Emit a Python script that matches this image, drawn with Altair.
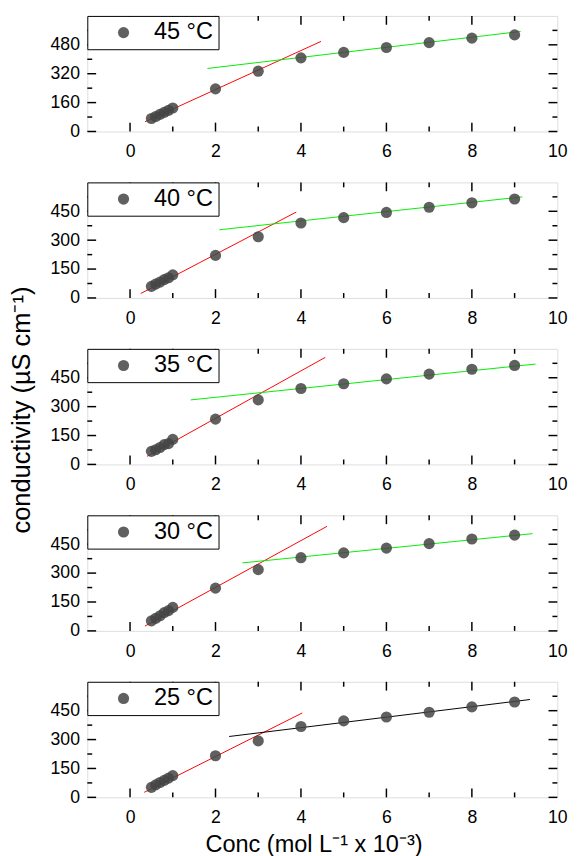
import altair as alt
import pandas as pd

conc = [0.5, 0.6, 0.7, 0.8, 0.9, 1.0, 2, 3, 4, 5, 6, 7, 8, 9]
temps = ["45 °C", "40 °C", "35 °C", "30 °C", "25 °C"]
cond_45 = [72, 83, 95, 106, 117, 130, 236, 334, 408, 438, 465, 492, 517, 535]
cond_40 = [60, 72, 82, 95, 105, 120, 221, 318, 389, 417, 444, 471, 494, 514]
cond_35 = [68, 76, 88, 103, 108, 130, 235, 335, 394, 419, 444, 469, 494, 514]
cond_30 = [52, 65, 78, 95, 105, 122, 222, 318, 380, 405, 430, 453, 477, 497]
cond_25 = [52, 65, 77, 88, 100, 113, 216, 293, 368, 397, 417, 442, 470, 495]

# fit line endpoints: [x1, x2], [y1, y2]
red_x = [[0.35, 4.47], [0.25, 3.89], [0.40, 4.57], [0.35, 4.61], [0.33, 4.03]]
red_y = [[54, 499], [23, 446], [42, 556], [25, 543], [26, 438]]
high_x = [[1.81, 9.14], [2.09, 9.18], [1.42, 9.49], [2.63, 9.42], [2.32, 9.36]]
high_y = [[349, 554], [354, 525], [335, 521], [353, 505], [316, 508]]
high_color = ["#00ee00", "#00ee00", "#00ee00", "#00ee00", "#000000"]

y_max = [640, 600, 600, 600, 600]
y_major = [[0, 160, 320, 480], [0, 150, 300, 450], [0, 150, 300, 450], [0, 150, 300, 450], [0, 150, 300, 450]]
y_minor = [[80, 240, 400, 560], [75, 225, 375, 525], [75, 225, 375, 525], [75, 225, 375, 525], [75, 225, 375, 525]]
x_major = [0, 2, 4, 6, 8]
x_minor = [1, 3, 5, 7, 9]
x_labels = [0, 2, 4, 6, 8, 10]

all_cond = [cond_45, cond_40, cond_35, cond_30, cond_25]

W, H = 480, 118
FONT = "Liberation Sans"
MAJ, MIN = 9, 5


def panel(i):
    label = temps[i]
    xs = alt.Scale(domain=[-1, 10], nice=False, zero=False)
    ys = alt.Scale(domain=[0, y_max[i]], nice=False, zero=False)
    xaxis = alt.Axis(values=x_labels, ticks=False, domain=False, grid=False,
                     labelFontSize=18, labelFont=FONT, labelColor="black",
                     labelPadding=12, labelFlush=False, labelOverlap=False,
                     title="Conc (mol L⁻¹ x 10⁻³)" if i == 4 else None,
                     titleFontSize=24, titleFont=FONT, titleFontWeight="normal",
                     titleColor="black", titlePadding=6, titleX=231)
    yaxis = alt.Axis(values=y_major[i], ticks=False, domain=False, grid=False,
                     labelFontSize=18, labelFont=FONT, labelColor="black",
                     labelPadding=8, labelFlush=False, labelOverlap=False,
                     title="conductivity (µS cm⁻¹)" if i == 2 else None,
                     titleFontSize=26, titleFont=FONT, titleFontWeight="normal",
                     titleColor="black", titlePadding=16, titleY=H / 2 + 3)
    X = lambda: alt.X("x:Q", scale=xs, axis=xaxis)
    Y = lambda: alt.Y("y:Q", scale=ys, axis=yaxis)

    df = pd.DataFrame({"x": conc, "y": all_cond[i], "t": [label] * len(conc)})
    pts = alt.Chart(df).mark_circle(size=130, opacity=0.85).encode(
        x=X(), y=Y(),
        color=alt.Color("t:N", scale=alt.Scale(domain=[label], range=["#444444"]),
                        legend=alt.Legend(title=None, orient="top-left", offset=0,
                                          padding=5, strokeColor="black", fillColor="white",
                                          labelFontSize=24, labelFont=FONT, labelColor="black",
                                          symbolSize=130, symbolOffset=20, labelOffset=19,
                                          symbolType="circle", zindex=1)),
    )
    red = alt.Chart(pd.DataFrame({"x": red_x[i], "y": red_y[i]})).mark_line(
        color="#ff0000", strokeWidth=1).encode(x=X(), y=Y())
    high = alt.Chart(pd.DataFrame({"x": high_x[i], "y": high_y[i]})).mark_line(
        color=high_color[i], strokeWidth=1).encode(x=X(), y=Y())

    dxm = pd.DataFrame({"x": x_major})
    dxn = pd.DataFrame({"x": x_minor})
    dym = pd.DataFrame({"y": y_major[i]})
    dyn = pd.DataFrame({"y": y_minor[i]})
    rk = dict(color="black", strokeWidth=1.5)
    ticks = [
        alt.Chart(dxm).mark_rule(**rk).encode(x=X(), y=alt.value(H), y2=alt.value(H - MAJ)),
        alt.Chart(dxm).mark_rule(**rk).encode(x=X(), y=alt.value(0), y2=alt.value(MAJ)),
        alt.Chart(dxn).mark_rule(**rk).encode(x=X(), y=alt.value(H), y2=alt.value(H - MIN)),
        alt.Chart(dxn).mark_rule(**rk).encode(x=X(), y=alt.value(0), y2=alt.value(MIN)),
        alt.Chart(dym).mark_rule(**rk).encode(y=Y(), x=alt.value(0), x2=alt.value(MAJ)),
        alt.Chart(dym).mark_rule(**rk).encode(y=Y(), x=alt.value(W), x2=alt.value(W - MAJ)),
        alt.Chart(dyn).mark_rule(**rk).encode(y=Y(), x=alt.value(0), x2=alt.value(MIN)),
        alt.Chart(dyn).mark_rule(**rk).encode(y=Y(), x=alt.value(W), x2=alt.value(W - MIN)),
    ]
    return alt.layer(*ticks, red, high, pts).properties(width=W, height=H)


chart = alt.vconcat(*[panel(i) for i in range(5)], spacing=52, bounds="flush").resolve_scale(
    color="independent", y="independent").resolve_legend(color="independent").properties(
    padding={"left": 0, "top": -3, "right": 5, "bottom": 0}).configure_view(
    stroke="black", strokeWidth=1.5).configure_axis(labelOverlap=False).configure(background="white")

chart.save("out.html", embed_options={"renderer": "svg", "actions": False})
